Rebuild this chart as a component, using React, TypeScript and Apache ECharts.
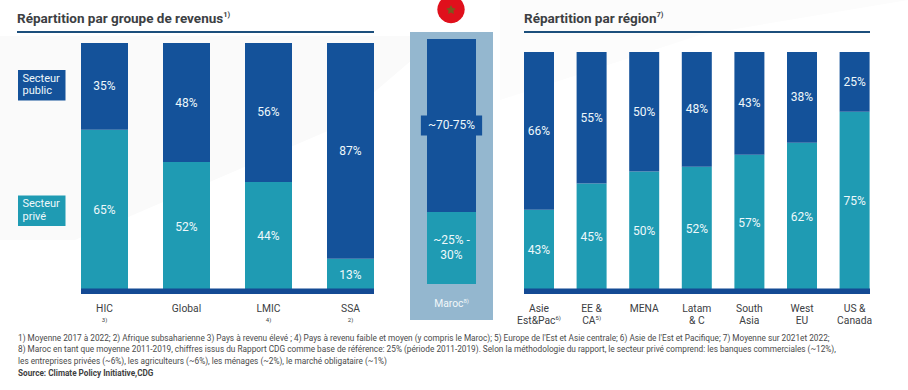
import React, { useEffect, useRef } from "react";
import * as echarts from "echarts";

const incomeCategories = ["HIC\n{note|3)}", "Global", "LMIC\n{note|4)}", "SSA\n{note|2)}"];
const incomePublic = [35, 48, 56, 87];
const incomePrivate = [65, 52, 44, 13];

const moroccoCategories = ["Maroc{sup|8)}"];
const moroccoPublic = [70.6];
const moroccoPrivate = [29.4];
const moroccoPublicLabels = ["~70-75%"];
const moroccoPrivateLabels = ["~25% -\n30%"];

const regionCategories = [
  "Asie\nEst&Pac{sup|6)}",
  "EE &\nCA{sup|5)}",
  "MENA",
  "Latam\n& C",
  "South\nAsia",
  "West\nEU",
  "US &\nCanada",
];
const regionPublic = [66, 55, 50, 48, 43, 38, 25];
const regionPrivate = [34, 45, 50, 52, 57, 62, 75];
const regionPrivateLabels = ["43%", "45%", "50%", "52%", "57%", "62%", "75%"];

const footnotes = [
  "1) Moyenne 2017 à 2022; 2) Afrique subsaharienne 3) Pays à revenu élevé ; 4) Pays à revenu faible et moyen (y compris le Maroc); 5) Europe de l'Est et Asie centrale; 6) Asie de l'Est et Pacifique; 7) Moyenne sur 2021et 2022;",
  "8) Maroc en tant que moyenne 2011-2019, chiffres issus du Rapport CDG comme base de référence: 25% (période 2011-2019). Selon la méthodologie du rapport, le secteur privé comprend: les banques commerciales (~12%),",
  "les entreprises privées (~6%), les agriculteurs (~6%), les ménages (~2%), le marché obligataire (~1%)",
];
const sourceNote = "Source: Climate Policy Initiative,CDG";

const FONT = "Roboto";
const DARK = "#14529a";
const TEAL = "#1f9bb3";
const BASE = "#144a94";
const RULE = "#1c4f7c";
const INK = "#3c4043";
const ON_BAR = "#eef8fb";

const supRich = {
  sup: { fontSize: 6, fontFamily: FONT, color: INK, verticalAlign: "top", lineHeight: 12 },
  note: { fontSize: 6, fontFamily: FONT, color: INK, lineHeight: 11 },
};

function star(cx: number, cy: number, r: number) {
  const pts: number[][] = [];
  for (let i = 0; i < 10; i++) {
    const a = -Math.PI / 2 + (i * Math.PI) / 5;
    const d = i % 2 === 0 ? r : r * 0.5;
    pts.push([cx + d * Math.cos(a), cy + d * Math.sin(a)]);
  }
  return pts;
}

function pct(v: { value: number }) {
  return v.value + "%";
}

function barPair(
  axis: number,
  privateValues: number[],
  publicValues: number[],
  barWidth: number | string,
  privateFmt: (p: any) => string,
  publicFmt: (p: any) => string,
  publicLabelExtra: object = {},
) {
  const label = { show: true, position: "inside", color: ON_BAR, fontFamily: FONT, fontSize: 12, lineHeight: 15 };
  return [
    {
      type: "bar",
      stack: "s" + axis,
      xAxisIndex: axis,
      yAxisIndex: axis,
      barWidth,
      data: privateValues,
      itemStyle: { color: TEAL },
      label: { ...label, formatter: privateFmt },
    },
    {
      type: "bar",
      stack: "s" + axis,
      xAxisIndex: axis,
      yAxisIndex: axis,
      barWidth,
      data: publicValues,
      itemStyle: { color: DARK },
      label: { ...label, ...publicLabelExtra, formatter: publicFmt },
    },
  ];
}

function xAxis(grid: number, data: string[], margin: number, color = INK) {
  return {
    type: "category",
    gridIndex: grid,
    data,
    z: 6,
    axisLine: { show: false },
    axisTick: { show: false },
    axisLabel: {
      interval: 0,
      margin,
      color,
      fontFamily: FONT,
      fontSize: 10.3,
      lineHeight: 12,
      rich: { ...supRich, sup: { ...supRich.sup, color } },
    },
  };
}

function yAxis(grid: number) {
  return { type: "value", gridIndex: grid, min: 0, max: 100, show: false };
}

function titleOf(left: number, text: string) {
  return {
    left,
    top: 10,
    padding: 0,
    text,
    textStyle: {
      fontFamily: FONT,
      fontSize: 13.5,
      fontWeight: 700,
      color: INK,
      lineHeight: 16,
      rich: {
        t: { fontFamily: FONT, fontSize: 13.5, fontWeight: 700, color: INK, lineHeight: 16 },
        s: { fontFamily: FONT, fontSize: 7.5, color: INK, verticalAlign: "top", lineHeight: 16 },
      },
    },
  };
}

function legendBox(y: number, color: string, text: string) {
  return [
    { type: "rect", shape: { x: 18, y, width: 47.5, height: 30.5 }, style: { fill: color } },
    {
      type: "text",
      x: 22.5,
      y: y + 2,
      style: { text, fill: ON_BAR, fontFamily: FONT, fontSize: 11, lineHeight: 12.5 },
    },
  ];
}

export default function App() {
  const ref = useRef<HTMLDivElement>(null);

  useEffect(() => {
    const chart = echarts.init(ref.current!, undefined, { renderer: "svg" });
    chart.setOption({
      animation: false,
      backgroundColor: "#ffffff",
      title: [
        titleOf(17, "{t|Répartition par groupe de revenus}{s|1)}"),
        titleOf(524, "{t|Répartition par région}{s|7)}"),
      ],
      grid: [
        { left: 63.5, width: 328, top: 43, height: 248 },
        { left: 427, width: 49, top: 39, height: 245 },
        { left: 512.7, width: 368.2, top: 52, height: 239 },
      ],
      xAxis: [
        xAxis(0, incomeCategories, 11),
        xAxis(1, moroccoCategories, 13, "#f2f7fa"),
        xAxis(2, regionCategories, 11),
      ],
      yAxis: [yAxis(0), yAxis(1), yAxis(2)],
      series: [
        ...barPair(0, incomePrivate, incomePublic, 47, pct, pct),
        ...barPair(
          1,
          moroccoPrivate,
          moroccoPublic,
          "100%",
          (p) => moroccoPrivateLabels[p.dataIndex],
          (p) => moroccoPublicLabels[p.dataIndex],
          { backgroundColor: DARK, padding: [2, 7, 2, 7], lineHeight: 16, textBorderWidth: 0 },
        ),
        ...barPair(2, regionPrivate, regionPublic, 30, (p) => regionPrivateLabels[p.dataIndex], pct),
      ],
      graphic: {
        elements: [
          { type: "polygon", z: 0, shape: { points: [[0, 36], [440, 36], [330, 130], [75, 240], [0, 240]] }, style: { fill: "#fafafa" } },
          { type: "polygon", z: 0, shape: { points: [[500, 100], [700, 35], [908, 0], [500, 0]] }, style: { fill: "#fcfcfc" } },
          { type: "rect", z: 1, shape: { x: 410, y: 32, width: 83, height: 288 }, style: { fill: "#94b7cf" } },
          { type: "circle", z: 1, shape: { cx: 451, cy: 9.5, r: 13.7 }, style: { fill: "#e0101c" } },
          { type: "polygon", z: 2, shape: { points: star(451, 10, 5) }, style: { fill: "#7a5a1e" } },
          { type: "rect", z: 1, shape: { x: 17, y: 31, width: 357, height: 2 }, style: { fill: RULE } },
          { type: "rect", z: 1, shape: { x: 524, y: 31, width: 346, height: 2 }, style: { fill: RULE } },
          { type: "rect", z: 10, shape: { x: 81, y: 288.5, width: 293, height: 5.5 }, style: { fill: BASE } },
          { type: "rect", z: 10, shape: { x: 524, y: 288.5, width: 346, height: 5.5 }, style: { fill: BASE } },
          ...legendBox(70, DARK, "Secteur\npublic"),
          ...legendBox(195.5, TEAL, "Secteur\nprivé"),
          ...footnotes.map((text, i) => ({
            type: "text",
            x: 18,
            y: 333.5 + i * 11.9,
            style: { text, fill: "#4a4a4a", fontFamily: FONT, fontSize: 8.25 },
          })),
          {
            type: "text",
            x: 18,
            y: 369,
            style: { text: sourceNote, fill: "#3f3f3f", fontFamily: FONT, fontSize: 8.2, fontWeight: 700 },
          },
        ],
      },
    });
    return () => chart.dispose();
  }, []);

  return <div ref={ref} style={{ position: "fixed", left: 0, top: 0, width: 908, height: 390 }} />;
}
